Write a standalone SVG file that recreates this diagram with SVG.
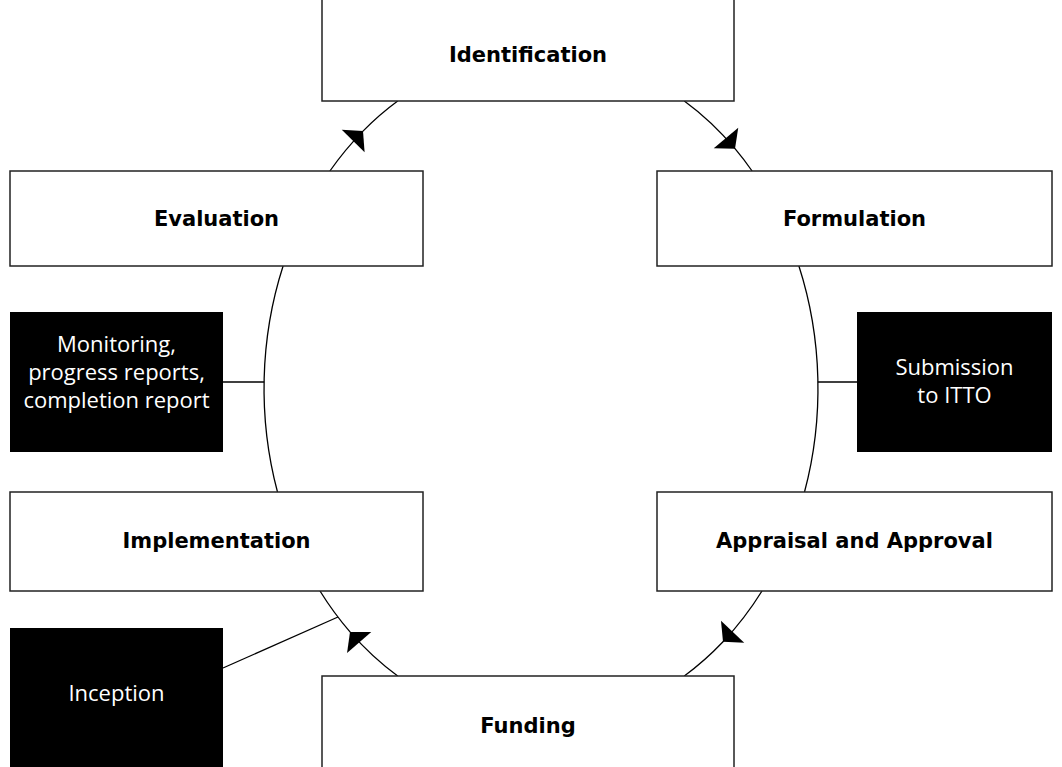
<svg xmlns="http://www.w3.org/2000/svg" width="1062" height="767" viewBox="0 0 1062 767">
<style>
.box{fill:#fff;stroke:#222;stroke-width:1.5}
.blk{fill:#000;stroke:none}
.lbl{font-family:"DejaVu Sans",Verdana,sans-serif;font-weight:bold;font-size:21px;fill:#000;text-anchor:middle}
.wt{font-family:"Open Sans","Noto Sans",sans-serif;font-size:22px;fill:#fff;text-anchor:middle}
.con{fill:none;stroke:#000;stroke-width:1.3}
</style>
<defs>
<marker id="ah" viewBox="-15 -17 16 34" refX="0" refY="0" markerWidth="16" markerHeight="34" markerUnits="userSpaceOnUse" orient="auto">
<path d="M0,0 L-14,-16 L-14,16 Z" fill="#000"/>
</marker>
</defs>
<rect width="1062" height="767" fill="#fff"/>
<g id="connectors">
<path class="con" marker-mid="url(#ah)" d="M684.3,101 A277,336 0 0 1 735,148.7 A277,336 0 0 1 752.1,171"/>
<path class="con" d="M798.9,266 A277,336 0 0 1 804.5,492"/>
<path class="con" marker-mid="url(#ah)" d="M762,591 A277,336 0 0 1 723,641.8 A277,336 0 0 1 684.3,676"/>
<path class="con" marker-mid="url(#ah)" d="M397.7,676 A277,336 0 0 1 350,631.9 A277,336 0 0 1 320,591"/>
<path class="con" d="M277.5,492 A277,336 0 0 1 283.1,266"/>
<path class="con" marker-mid="url(#ah)" d="M329.9,171 A277,336 0 0 1 363,131.1 A277,336 0 0 1 397.7,101"/>
<line class="con" x1="223" y1="382" x2="264.1" y2="382"/>
<line class="con" x1="817.9" y1="382" x2="857" y2="382"/>
<line class="con" x1="223" y1="668" x2="338" y2="617"/>
</g>
<g id="identification">
<rect class="box" x="322" y="-1" width="412" height="102"/>
<text class="lbl" x="528" y="62">Identification</text>
</g>
<g id="formulation">
<rect class="box" x="657" y="171" width="395" height="95"/>
<text class="lbl" x="854.5" y="226">Formulation</text>
</g>
<g id="submission">
<rect class="blk" x="857" y="312" width="195" height="140"/>
<text class="wt" x="954.5" y="375">Submission</text>
<text class="wt" x="954.5" y="403">to ITTO</text>
</g>
<g id="appraisal">
<rect class="box" x="657" y="492" width="395" height="99"/>
<text class="lbl" x="854.5" y="548">Appraisal and Approval</text>
</g>
<g id="funding">
<rect class="box" x="322" y="676" width="412" height="100"/>
<text class="lbl" x="528" y="733">Funding</text>
</g>
<g id="implementation">
<rect class="box" x="10" y="492" width="413" height="99"/>
<text class="lbl" x="216.5" y="548">Implementation</text>
</g>
<g id="inception">
<rect class="blk" x="10" y="628" width="213" height="145"/>
<text class="wt" x="116.5" y="701">Inception</text>
</g>
<g id="monitoring">
<rect class="blk" x="10" y="312" width="213" height="140"/>
<text class="wt" x="116.5" y="352">Monitoring,</text>
<text class="wt" x="116.5" y="380">progress reports,</text>
<text class="wt" x="116.5" y="408">completion report</text>
</g>
<g id="evaluation">
<rect class="box" x="10" y="171" width="413" height="95"/>
<text class="lbl" x="216.5" y="226">Evaluation</text>
</g>
</svg>
